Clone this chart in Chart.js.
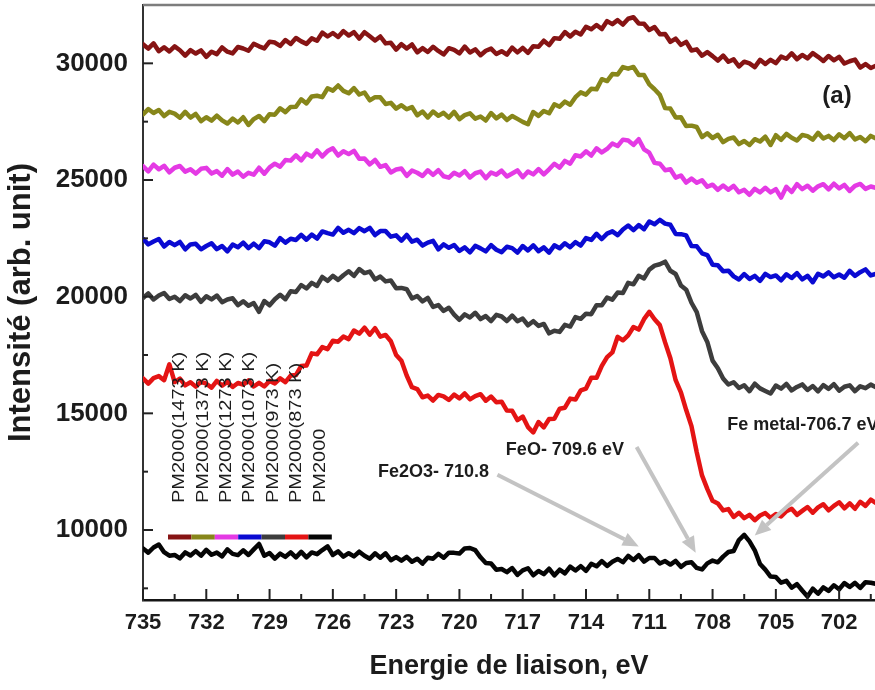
<!DOCTYPE html>
<html>
<head>
<meta charset="utf-8">
<title>Fe 2p XPS – PM2000</title>
<script src="https://cdn.jsdelivr.net/npm/chart.js@4.4.1/dist/chart.umd.min.js"></script>
<style>
  html, body { margin: 0; padding: 0; background: #fff; }
  canvas { display: block; }
</style>
</head>
<body>
<canvas id="chart-xps" width="875" height="690"></canvas>
<script>
/* Fe 2p spectra of PM2000 after annealing at different temperatures */

const FONT = "'Liberation Sans', Arial, Helvetica, sans-serif";

// binding energy grid, 735 eV down in 0.25 eV steps
const E_START = 735;
const E_STEP = 0.25;

const xTickLabels = [735, 732, 729, 726, 723, 720, 717, 714, 711, 708, 705, 702];
const yTickLabels = [10000, 15000, 20000, 25000, 30000];

const seriesNames = [
  'PM2000(1473 K)', 'PM2000(1373 K)', 'PM2000(1273 K)', 'PM2000(1073 K)',
  'PM2000(973 K)', 'PM2000(873 K)', 'PM2000',
];

const pm1473 = [
  30820, 30630, 30855, 30520, 30690, 30510, 30725, 30560, 30330, 30565,
  30420, 30555, 30280, 30500, 30395, 30680, 30500, 30425, 30700, 30635,
  30540, 30840, 30730, 30640, 30930, 30890, 30745, 31000, 30830, 31085,
  30940, 30835, 31070, 30970, 31315, 31150, 31300, 31130, 31380, 31190,
  31340, 31060, 31335, 31160, 30980, 31150, 30855, 30880, 30590, 30820,
  30635, 30810, 30470, 30650, 30485, 30710, 30530, 30380, 30650, 30580,
  30430, 30720, 30465, 30600, 30350, 30540, 30630, 30400, 30520, 30370,
  30675, 30470, 30660, 30450, 30735, 30710, 30970, 30780, 31080, 31050,
  31340, 31150, 31355, 31240, 31570, 31460, 31640, 31470, 31810, 31680,
  31850, 31660, 31910, 31975, 31710, 31695, 31430, 31555, 31250, 31255,
  30920, 31060, 30790, 30920, 30550, 30600, 30325, 30480, 30310, 30120,
  30335, 30070, 30170, 29865, 30070, 29995, 29840, 30150, 29970, 30150,
  30010, 30290, 30195, 30430, 30180, 30360, 30210, 30440, 30280, 30100,
  30315, 30130, 30280, 29990, 30090, 30160, 29820, 29970, 29800, 29900,
];

const pm1373 = [
  27810, 28040, 27870, 28000, 27740, 27920, 27845, 27670, 27920, 27675,
  27830, 27525, 27690, 27545, 27760, 27555, 27420, 27630, 27465, 27690,
  27360, 27610, 27745, 27520, 27820, 27800, 28075, 27910, 28130, 28140,
  28460, 28280, 28580, 28610, 28550, 28930, 28830, 29050, 28820, 28715,
  28940, 28665, 28750, 28415, 28550, 28545, 28260, 28305, 28060, 28205,
  28030, 28125, 27770, 27935, 27680, 27935, 27750, 27880, 27675, 27920,
  27610, 27780, 27855, 27630, 27720, 27550, 27870, 27640, 27800, 27570,
  27745, 27620, 27490, 27390, 27915, 27750, 27960, 27860, 28245, 28140,
  28360, 28225, 28550, 28755, 28660, 28910, 28885, 29320, 29240, 29540,
  29520, 29840, 29770, 29845, 29500, 29495, 29100, 28890, 28650, 28080,
  28060, 27680, 27690, 27310, 27330, 27270, 26840, 27005, 26800, 26940,
  26620, 26760, 26820, 26540, 26670, 26500, 26750, 26650, 26855, 26500,
  26920, 26720, 26975, 26810, 26690, 26930, 26880, 26730, 27020, 26780,
  26890, 26710, 26960, 26790, 27010, 26740, 26845, 26660, 26890, 26780,
];

const pm1273 = [
  25590, 25370, 25660, 25460, 25610, 25330, 25525, 25600, 25360, 25460,
  25275, 25480, 25520, 25275, 25380, 25185, 25470, 25230, 25365, 25140,
  25310, 25230, 25525, 25270, 25540, 25700, 25570, 25855, 25830, 26060,
  25840, 26130, 26000, 26270, 26010, 26240, 26360, 26050, 26235, 26110,
  26250, 25910, 25920, 25670, 25860, 25565, 25640, 25325, 25450, 25495,
  25180, 25405, 25310, 25170, 25415, 25220, 25420, 25160, 25100, 25310,
  25190, 25380, 25110, 25290, 25360, 25080, 25320, 25230, 25400, 25150,
  25280, 25410, 25120, 25365, 25240, 25465, 25240, 25460, 25695, 25530,
  25820, 25700, 26060, 26010, 26230, 26050, 26360, 26180, 26330, 26565,
  26460, 26730, 26690, 26505, 26750, 26315, 26170, 25735, 25700, 25420,
  25460, 25100, 25195, 24890, 25060, 24880, 24990, 24710, 24800, 24580,
  24765, 24580, 24750, 24475, 24580, 24365, 24620, 24470, 24665, 24470,
  24610, 24245, 24710, 24485, 24820, 24610, 24755, 24540, 24730, 24820,
  24600, 24840, 24640, 24790, 24530, 24750, 24830, 24620, 24720, 24660,
];

const pm1073 = [
  22480, 22240, 22365, 22470, 22150, 22345, 22210, 22345, 22030, 22240,
  22265, 22030, 22170, 22285, 22035, 22170, 21940, 22235, 22120, 22315,
  22080, 22275, 22080, 22375, 22330, 22185, 22510, 22315, 22480, 22430,
  22650, 22440, 22660, 22490, 22795, 22720, 22660, 22945, 22740, 22865,
  22720, 22940, 22805, 22950, 22640, 22810, 22810, 22570, 22630, 22400,
  22645, 22360, 22440, 22190, 22315, 22390, 22030, 22240, 22095, 22210,
  21960, 22110, 21900, 22180, 22070, 21940, 22210, 22010, 21910, 22140,
  22080, 21890, 22170, 21980, 22200, 21950, 22115, 21890, 22200, 22075,
  22290, 22120, 22335, 22190, 22510, 22430, 22695, 22470, 22700, 22800,
  22635, 22880, 23050, 22850, 23070, 22890, 23220, 23100, 23290, 23130,
  23080, 22690, 22680, 22625, 22170, 22160, 21860, 21785, 21370, 21350,
  21090, 21115, 20870, 20735, 20970, 20760, 20890, 20680, 20980, 20840,
  20910, 20700, 20960, 20800, 21010, 20740, 20895, 20620, 20980, 20870,
  21040, 20830, 20950, 20810, 21110, 20890, 21050, 21170, 20910, 20980,
];

const pm973 = [
  19940, 20140, 19880, 20050, 20160, 19900, 19995, 19810, 20060, 19920,
  20080, 19780, 20020, 19885, 20050, 19765, 19880, 19930, 19635, 19800,
  19610, 19725, 19350, 19810, 19630, 19890, 20080, 19890, 20230, 20200,
  20500, 20350, 20590, 20460, 20845, 20680, 20890, 20720, 20920, 21090,
  20890, 21185, 21010, 21075, 20740, 20860, 20655, 20690, 20360, 20375,
  20320, 19925, 20030, 19800, 19945, 19560, 19640, 19390, 19525, 19230,
  19010, 19240, 19110, 19310, 19040, 19170, 18955, 19220, 19150, 18955,
  19190, 18945, 19060, 18775, 18950, 18745, 18830, 18430, 18540, 18490,
  18790, 18720, 19125, 19050, 19270, 19250, 19635, 19630, 19960, 19870,
  20175, 20160, 20590, 20530, 20895, 20780, 21160, 21330, 21390, 21500,
  21110, 20970, 20480, 20300, 19740, 19340, 18520, 18060, 17260, 16935,
  16490, 16235, 16330, 16090, 16200, 15950, 16270, 16070, 15960, 15850,
  16190, 16060, 16260, 15980, 16130, 16240, 16000, 16170, 15940, 16210,
  16050, 16250, 15970, 16140, 16200, 15950, 16160, 16080, 16230, 16120,
];

const pm873 = [
  16500, 16275, 16510, 16595, 16420, 17100, 16340, 16490, 16200, 16330,
  16145, 16350, 16270, 16100, 16390, 16190, 16350, 16130, 16300, 16230,
  16410, 16150, 16305, 16150, 16390, 16285, 16500, 16335, 16620, 16640,
  17030, 17050, 17570, 17530, 17840, 17750, 18110, 18070, 18290, 18180,
  18550, 18415, 18670, 18370, 18650, 18285, 18360, 18090, 17500, 17250,
  16620, 16120, 16040, 15690, 15760, 15550, 15790, 15730, 15570, 15800,
  15640, 15850, 15600, 15740, 15820, 15540, 15720, 15475, 15500, 15120,
  15110, 14710, 14860, 14410, 14180, 14625, 14400, 14760, 14770, 15195,
  15240, 15630, 15590, 15980, 16060, 16525, 16520, 17035, 17410, 17610,
  18280, 18130, 18340, 18700, 18590, 19035, 19350, 19030, 18780, 18040,
  17360, 16420, 15900, 15140, 14450, 13330, 12340, 11760, 11250, 11140,
  10840, 10895, 10560, 10740, 10510, 10650, 10420, 10620, 10725, 10520,
  10680, 10580, 10805, 10910, 10650, 10820, 10985, 10740, 10970, 11105,
  10840, 11035, 11190, 10930, 11145, 10910, 11210, 11035, 11300, 11150,
];

const pmAsReceived = [
  9210, 9030, 9250, 9375, 9050, 8900, 8930, 8785, 9040, 8905,
  9095, 8900, 9150, 8940, 9030, 8870, 9170, 8975, 8925, 9130,
  8930, 9170, 9400, 8895, 9010, 8775, 8990, 8850, 9040, 8825,
  9060, 8825, 9040, 8965, 9140, 9300, 8930, 9085, 8860, 9005,
  8870, 9070, 8895, 8770, 9000, 8815, 9000, 8705, 8840, 8685,
  8850, 8640, 8770, 8560, 8810, 8770, 8980, 8810, 9030, 9020,
  8990, 9210, 9230, 9140, 8830, 8585, 8560, 8300, 8330, 8195,
  8370, 8075, 8270, 8360, 8060, 8240, 8110, 8340, 8055, 8300,
  8140, 8430, 8265, 8450, 8250, 8550, 8445, 8670, 8460, 8640,
  8760, 8620, 8890, 8715, 8920, 8645, 8800, 8800, 8565, 8670,
  8520, 8675, 8420, 8585, 8620, 8375, 8310, 8570, 8690, 8615,
  8860, 9055, 9100, 9570, 9790, 9510, 9130, 8540, 8300, 8005,
  7990, 7740, 7820, 7525, 7680, 7405, 7150, 7485, 7270, 7540,
  7390, 7630, 7460, 7725, 7560, 7735, 7520, 7765, 7740, 7690,
];

const PALETTE = {
  maroon:  '#861414',
  olive:   '#87861a',
  magenta: '#e43ae4',
  blue:    '#0a0ad2',
  gray:    '#3d3d3d',
  red:     '#e41414',
  black:   '#050505',
  arrow:   '#c3c3c3',
  text:    '#1c1c1c',
};

const seriesColors = [
  PALETTE.maroon, PALETTE.olive, PALETTE.magenta, PALETTE.blue,
  PALETTE.gray, PALETTE.red, PALETTE.black,
];

// peak assignments: label anchor and arrow in (eV, counts)
const peakNotes = [
  { text: 'Fe2O3- 710.8',      at: [718.6, 12490], align: 'right', from: [718.2, 12370], to: [711.5, 9290] },
  { text: 'FeO- 709.6 eV',     at: [715.0, 13440], align: 'center', from: [711.6, 13560], to: [708.8, 9030] },
  { text: 'Fe metal-706.7 eV', at: [707.3, 14510], align: 'left', from: [701.1, 13740], to: [706.0, 9760] },
];

const energies = pm1473.map((_, i) => E_START - i * E_STEP);

const allSeries = [pm1473, pm1373, pm1273, pm1073, pm973, pm873, pmAsReceived];

// ---- plugins -------------------------------------------------------------

function line(ctx, x1, y1, x2, y2) {
  ctx.beginPath();
  ctx.moveTo(x1, y1);
  ctx.lineTo(x2, y2);
  ctx.stroke();
}

// inward ticks (major + minor) and the top frame line
const frameTicks = {
  id: 'frameTicks',
  afterDraw(chart) {
    const { ctx, chartArea: a, scales: { x, y } } = chart;
    ctx.save();
    ctx.strokeStyle = '#7d7d7d';
    ctx.lineWidth = 2.5;
    line(ctx, a.left, a.top, a.right, a.top);

    ctx.strokeStyle = '#222';
    ctx.lineWidth = 2;
    xTickLabels.forEach(v => {
      const px = x.getPixelForValue(v);
      line(ctx, px, a.bottom, px, a.bottom - 11);
      const pm = x.getPixelForValue(v - 1.5);
      if (pm < a.right - 2) line(ctx, pm, a.bottom, pm, a.bottom - 6);
    });
    yTickLabels.forEach(v => {
      const py = y.getPixelForValue(v);
      line(ctx, a.left, py, a.left + 10, py);
      const pm = y.getPixelForValue(v - 2500);
      line(ctx, a.left, pm, a.left + 5, pm);
    });
    ctx.restore();
  },
};

// colour bar with vertical sample names
const sampleLegend = {
  id: 'sampleLegend',
  afterDatasetsDraw(chart) {
    const { ctx, chartArea: a } = chart;
    const colW = 23.4;
    const x0 = a.left + 25;
    const barY = a.bottom - 63;
    const textBase = a.bottom - 97;
    ctx.save();
    ctx.lineWidth = 5;
    ctx.lineCap = 'butt';
    seriesNames.forEach((name, i) => {
      ctx.strokeStyle = seriesColors[i];
      line(ctx, x0 + i * colW, barY, x0 + (i + 1) * colW, barY);

      ctx.save();
      ctx.translate(x0 + (i + 0.5) * colW, textBase);
      ctx.rotate(-Math.PI / 2);
      ctx.scale(1.25, 1);
      ctx.font = `16px ${FONT}`;
      ctx.fillStyle = PALETTE.text;
      ctx.textAlign = 'left';
      ctx.textBaseline = 'middle';
      ctx.fillText(name, 0, 0);
      ctx.restore();
    });
    ctx.restore();
  },
};

// arrows pointing at the Fe 2p3/2 components, plus the panel tag
const peakLabels = {
  id: 'peakLabels',
  afterDatasetsDraw(chart) {
    const { ctx, scales: { x, y } } = chart;
    ctx.save();
    peakNotes.forEach(n => {
      const x1 = x.getPixelForValue(n.from[0]);
      const y1 = y.getPixelForValue(n.from[1]);
      const x2 = x.getPixelForValue(n.to[0]);
      const y2 = y.getPixelForValue(n.to[1]);
      const ang = Math.atan2(y2 - y1, x2 - x1);
      const head = 16;
      const bx = x2 - head * Math.cos(ang);
      const by = y2 - head * Math.sin(ang);

      ctx.strokeStyle = PALETTE.arrow;
      ctx.fillStyle = PALETTE.arrow;
      ctx.lineWidth = 4;
      line(ctx, x1, y1, bx, by);
      ctx.beginPath();
      ctx.moveTo(x2, y2);
      ctx.lineTo(bx + 7 * Math.sin(ang), by - 7 * Math.cos(ang));
      ctx.lineTo(bx - 7 * Math.sin(ang), by + 7 * Math.cos(ang));
      ctx.closePath();
      ctx.fill();

      ctx.font = `bold 18px ${FONT}`;
      ctx.fillStyle = PALETTE.text;
      ctx.textAlign = n.align;
      ctx.textBaseline = 'middle';
      ctx.fillText(n.text, x.getPixelForValue(n.at[0]), y.getPixelForValue(n.at[1]));
    });

    ctx.font = `bold 24px ${FONT}`;
    ctx.fillStyle = PALETTE.text;
    ctx.textAlign = 'center';
    ctx.textBaseline = 'middle';
    ctx.fillText('(a)', x.getPixelForValue(702.1), y.getPixelForValue(28590));
    ctx.restore();
  },
};

// ---- chart ---------------------------------------------------------------

function renderChart() {
  const ctx = document.getElementById('chart-xps').getContext('2d');

  const datasets = allSeries.map((vals, i) => ({
    label: seriesNames[i],
    data: vals.map((v, j) => ({ x: energies[j], y: v })),
    borderColor: seriesColors[i],
    borderWidth: 4.5,
    pointRadius: 0,
    tension: 0,
    borderJoinStyle: 'round',
    borderCapStyle: 'round',
  }));

  new Chart(ctx, {
    type: 'line',
    data: { datasets },
    options: {
      responsive: false,
      animation: false,
      devicePixelRatio: 1,
      layout: { padding: { top: 5, left: 0, right: 0, bottom: 0 } },
      plugins: {
        legend: { display: false },
        tooltip: { enabled: false },
      },
      scales: {
        x: {
          type: 'linear',
          reverse: true,
          min: 700.3,
          max: 735,
          grid: { display: false, drawTicks: false },
          border: { display: true, color: '#151515', width: 2.5 },
          ticks: {
            autoSkip: false,
            maxRotation: 0,
            padding: 10,
            color: PALETTE.text,
            font: { family: FONT, size: 22, weight: 'bold' },
            callback: v => String(v),
          },
          afterBuildTicks: s => { s.ticks = xTickLabels.map(v => ({ value: v })); },
          afterFit: s => { s.height = 90; s.paddingLeft = 0; s.paddingRight = 0; },
          title: {
            display: true,
            text: 'Energie de liaison, eV',
            color: PALETTE.text,
            font: { family: FONT, size: 27, weight: 'bold' },
            padding: { top: 0, bottom: 7 },
          },
        },
        y: {
          type: 'linear',
          min: 7000,
          max: 32500,
          grid: { display: false, drawTicks: false },
          border: { display: true, color: '#333', width: 2 },
          ticks: {
            padding: 15,
            color: PALETTE.text,
            font: { family: FONT, size: 26, weight: 'bold' },
            callback: v => String(v),
          },
          afterBuildTicks: s => { s.ticks = yTickLabels.map(v => ({ value: v })); },
          afterFit: s => { s.width = 143; s.paddingTop = 0; s.paddingBottom = 0; },
          title: {
            display: true,
            text: 'Intensité (arb. unit)',
            color: PALETTE.text,
            font: { family: FONT, size: 31, weight: 'bold' },
            padding: { top: 3, bottom: 0 },
          },
        },
      },
    },
    plugins: [frameTicks, sampleLegend, peakLabels],
  });
}

document.addEventListener('DOMContentLoaded', renderChart);
</script>
</body>
</html>
